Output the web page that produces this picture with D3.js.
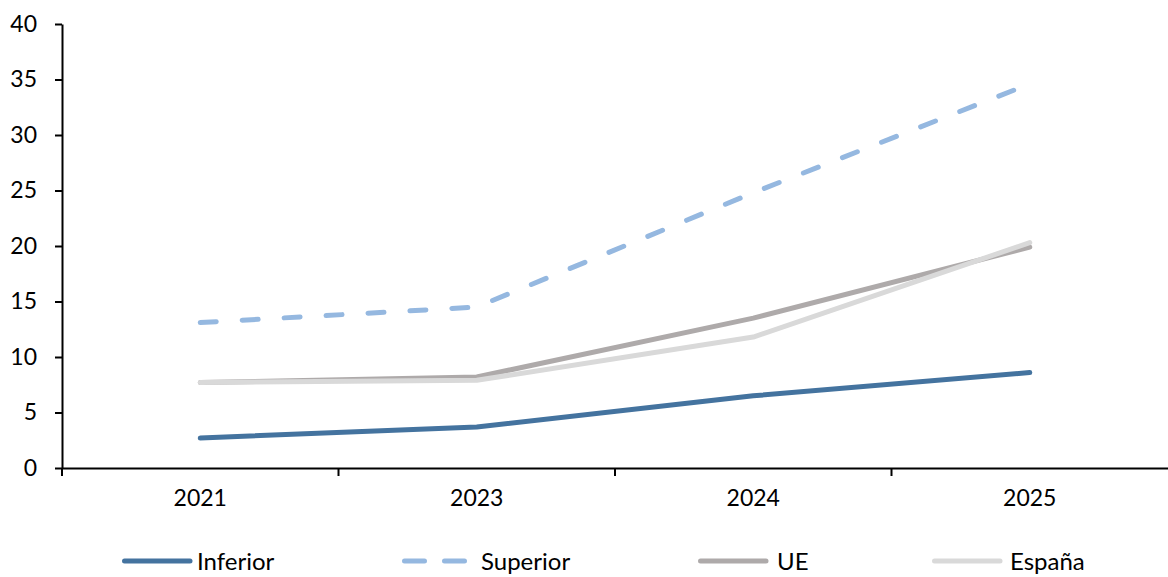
<!DOCTYPE html>
<html>
<head>
<meta charset="utf-8">
<script src="https://cdn.jsdelivr.net/npm/d3@7"></script>
<style>
  html, body { margin: 0; padding: 0; background: #fff; }
  svg { display: block; font-family: Lato, "Open Sans", sans-serif; }
</style>
</head>
<body>
<svg id="chart" width="1168" height="577"></svg>
<script>
// Years on the horizontal axis
const years = ["2021", "2023", "2024", "2025"];

// Series values
const inferior = [2.7, 3.7, 6.5, 8.6];
const superior = [13.1, 14.5, 24.8, 34.6];
const ue = [7.7, 8.2, 13.5, 19.9];
const espana = [7.7, 7.9, 11.8, 20.3];

// Y axis ticks
const yTicks = [0, 5, 10, 15, 20, 25, 30, 35, 40];

const series = [
  { name: "Inferior", values: inferior, color: "#44739f", dash: null },
  { name: "Superior", values: superior, color: "#95b8e0", dash: "16,26" },
  { name: "UE", values: ue, color: "#aeaaaa", dash: null },
  { name: "España", values: espana, color: "#d9d9d9", dash: null }
];

const svg = d3.select("#chart");
const plotLeft = 62, plotRight = 1168, plotTop = 24, plotBottom = 468;

const x = d3.scaleBand().domain(years).range([plotLeft, plotRight]);
const y = d3.scaleLinear().domain([0, 40]).range([plotBottom, plotTop]);

// Y axis
const yAxis = svg.append("g")
  .attr("transform", `translate(${plotLeft},0)`)
  .call(d3.axisLeft(y).tickValues(yTicks).tickSize(7).tickPadding(18).tickSizeOuter(0));
yAxis.select(".domain").attr("stroke", "#000").attr("stroke-width", 2);
yAxis.selectAll(".tick line").attr("stroke", "#000").attr("stroke-width", 2);
yAxis.selectAll(".tick text")
  .attr("fill", "#000").attr("font-size", 23).attr("font-family", "Lato, sans-serif");

// X axis; ticks sit at category boundaries
const xAxis = svg.append("g")
  .attr("transform", `translate(0,${plotBottom})`)
  .call(d3.axisBottom(x).tickSize(0).tickPadding(22).tickSizeOuter(0));
xAxis.select(".domain").attr("stroke", "#000").attr("stroke-width", 2);
xAxis.selectAll(".tick text")
  .attr("fill", "#000").attr("font-size", 23).attr("font-family", "Lato, sans-serif");

svg.append("g").selectAll("line")
  .data(years)
  .join("line")
  .attr("x1", d => x(d)).attr("x2", d => x(d))
  .attr("y1", plotBottom).attr("y2", plotBottom + 8)
  .attr("stroke", "#000").attr("stroke-width", 2);

// Lines
const line = d3.line()
  .x((d, i) => x(years[i]) + x.bandwidth() / 2)
  .y(d => y(d));

svg.append("g").selectAll("path")
  .data([series[2], series[3], series[1], series[0]])
  .join("path")
  .attr("d", s => line(s.values))
  .attr("fill", "none")
  .attr("stroke", s => s.color)
  .attr("stroke-width", 5)
  .attr("stroke-linecap", "round")
  .attr("stroke-linejoin", "round")
  .attr("stroke-dasharray", s => s.dash);

// Legend
const legendX = [122, 402, 698, 932];
const legendTextDx = [75, 79, 79, 78];
const legendY = 561;
const leg = svg.append("g").selectAll("g")
  .data(series)
  .join("g")
  .attr("transform", (s, i) => `translate(${legendX[i]},${legendY})`);
leg.append("line")
  .attr("x1", 2.5).attr("x2", 68)
  .attr("y1", 0).attr("y2", 0)
  .attr("stroke", s => s.color)
  .attr("stroke-width", 5)
  .attr("stroke-linecap", "round")
  .attr("stroke-dasharray", s => s.dash ? "20,20" : null);
leg.append("text")
  .attr("x", (s, i) => legendTextDx[i])
  .attr("y", 0)
  .attr("dy", "0.36em")
  .attr("font-size", 24)
  .attr("fill", "#000")
  .text(s => s.name);
</script>
</body>
</html>
